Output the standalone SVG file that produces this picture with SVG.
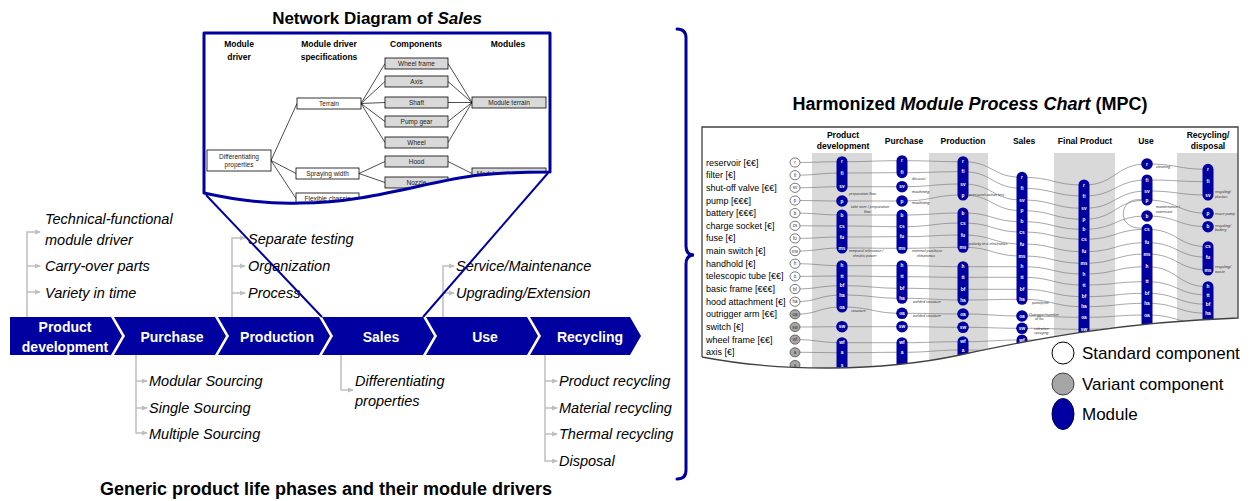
<svg xmlns="http://www.w3.org/2000/svg" width="1253" height="501" viewBox="0 0 1253 501">
<defs>
<style>
text{font-family:"Liberation Sans",Arial,sans-serif}
.title{font-weight:bold;font-size:16px;fill:#000;text-anchor:middle}
.drv{font-style:italic;font-size:14.5px;fill:#000}
.chev{fill:#0000A0}
.chevt{font-weight:bold;font-size:14px;fill:#fff;text-anchor:middle}
.tree{fill:none;stroke:#bfbfbf;stroke-width:1.5}
.zoomln{stroke:#0000A0;stroke-width:2;fill:none}
.ndh{font-weight:bold;font-size:8.5px;text-anchor:middle;fill:#000}
.ndt{font-size:6.5px;text-anchor:middle;fill:#222}
.nbox{fill:#d9d9d9;stroke:#000;stroke-width:0.8}
.nboxw{fill:#fff;stroke:#000;stroke-width:0.8}
.nedge{stroke:#000;stroke-width:0.7;fill:none}
.band{fill:#d9d9d9}
.mc{fill:none;stroke:#7f7f7f;stroke-width:0.7}
.mod{fill:#0000A0}
.ml{font-size:4.8px;font-weight:bold;fill:#fff;text-anchor:middle}
.lab{font-size:9px;fill:#000}
.std{fill:#fff;stroke:#404040;stroke-width:0.7}
.var{fill:#a6a6a6;stroke:#404040;stroke-width:0.7}
.cl{font-size:4.5px;fill:#333;text-anchor:middle}
.ann{font-size:3.8px;font-style:italic;fill:#333}
.mh{font-size:8.5px;font-weight:bold;text-anchor:middle;fill:#000}
.leg{font-size:17px;fill:#000}
</style>
<marker id="ah" viewBox="0 0 6 6" refX="5" refY="3" markerWidth="6" markerHeight="6" markerUnits="userSpaceOnUse" orient="auto"><path d="M0,0.5 L6,3 L0,5.5 Z" fill="#bfbfbf"/></marker>
<clipPath id="ndclip"><path d="M204,33 H550 V172 C535,172 510,172 480,175 C430,180 370,203 300,203 C270,204 240,201 204,193 Z"/></clipPath>
<clipPath id="mpcclip"><path d="M702,127 H1238 V318 C1120,322 1030,340 960,355 C880,372 780,372 702,357 Z"/></clipPath>
</defs>
<rect width="1253" height="501" fill="#fff"/>

<!-- Network diagram -->
<g id="network-diagram">
<text class="title" x="377" y="24" style="font-size:17px">Network Diagram of <tspan font-style="italic">Sales</tspan></text>
<path d="M204,33 H550 V172 C535,172 510,172 480,175 C430,180 370,203 300,203 C270,204 240,201 204,193 Z" fill="#fff"/>
<g clip-path="url(#ndclip)">
<text class="ndh" x="239" y="47">Module</text>
<text class="ndh" x="239" y="60">driver</text>
<text class="ndh" x="329" y="47">Module driver</text>
<text class="ndh" x="329" y="60">specifications</text>
<text class="ndh" x="416" y="47">Components</text>
<text class="ndh" x="508" y="47">Modules</text>
<g id="nd-edges">
<path class="nedge" d="M271,160.5 L297,103.5 M271,160.5 L296,173.5 M271,160.5 L296,198.5"/>
<path class="nedge" d="M361,103.5 L385,63.5 M361,103.5 L385,81.5 M361,103.5 L385,102.5 M361,103.5 L385,121.5 M361,103.5 L385,142.5"/>
<path class="nedge" d="M448,63.5 L472,102.5 M448,81.5 L472,102.5 M448,102.5 L472,102.5 M448,121.5 L472,102.5 M448,142.5 L472,102.5"/>
<path class="nedge" d="M359,173.5 L385,161.5 M359,173.5 L385,182.5 M448,161.5 L472,173.5"/>
</g>
<g id="nd-diff"><rect class="nboxw" x="207" y="150" width="64" height="21"/><text class="ndt" x="239" y="158.5">Differentiating</text><text class="ndt" x="239" y="167">properties</text></g>
<g id="nd-terrain"><rect class="nboxw" x="297" y="98" width="64" height="11"/><text class="ndt" x="329" y="105.5">Terrain</text></g>
<g id="nd-spraying"><rect class="nboxw" x="296" y="168" width="63" height="11"/><text class="ndt" x="327.5" y="175.5">Spraying  width</text></g>
<g id="nd-flexible"><rect class="nboxw" x="296" y="193" width="63" height="11"/><text class="ndt" x="327.5" y="200.5">Flexible chassis</text></g>
<g id="nd-wheelframe"><rect class="nbox" x="385" y="58" width="63" height="11"/><text class="ndt" x="416.5" y="65.5">Wheel frame</text></g>
<g id="nd-axis"><rect class="nbox" x="385" y="76" width="63" height="11"/><text class="ndt" x="416.5" y="83.5">Axis</text></g>
<g id="nd-shaft"><rect class="nbox" x="385" y="97" width="63" height="11"/><text class="ndt" x="416.5" y="104.5">Shaft</text></g>
<g id="nd-pumpgear"><rect class="nbox" x="385" y="116" width="63" height="11"/><text class="ndt" x="416.5" y="123.5">Pump gear</text></g>
<g id="nd-wheel"><rect class="nbox" x="385" y="137" width="63" height="11"/><text class="ndt" x="416.5" y="144.5">Wheel</text></g>
<g id="nd-hood"><rect class="nbox" x="385" y="156" width="63" height="11"/><text class="ndt" x="416.5" y="163.5">Hood</text></g>
<g id="nd-nozzle"><rect class="nbox" x="385" y="177" width="63" height="11"/><text class="ndt" x="416.5" y="184.5">Nozzle</text></g>
<g id="nd-modterrain"><rect class="nbox" x="472" y="97" width="74" height="11"/><text class="ndt" x="509" y="104.5">Module terrain</text></g>
<g id="nd-modspray"><rect class="nbox" x="472" y="168" width="74" height="11"/><text class="ndt" x="509" y="175.5">Module spraying width</text></g>
</g>
<path d="M204,33 H550 V172 C535,172 510,172 480,175 C430,180 370,203 300,203 C270,204 240,201 204,193 Z" fill="none" stroke="#0000A0" stroke-width="3" stroke-linejoin="round"/>
</g>

<!-- Life phases chevrons -->
<g id="phase-product-development"><path class="chev" d="M10,317 H111 L122,336 L111,355 H10 Z"/><text class="chevt" x="65" y="331.5">Product</text><text class="chevt" x="65" y="351.5">development</text></g>
<g id="phase-purchase"><path class="chev" d="M114,317 H215 L226,336 L215,355 H114 L125,336 Z"/><text class="chevt" x="172" y="341.5">Purchase</text></g>
<g id="phase-production"><path class="chev" d="M218,317 H319 L330,336 L319,355 H218 L229,336 Z"/><text class="chevt" x="277" y="341.5">Production</text></g>
<g id="phase-sales"><path class="chev" d="M322,317 H423 L434,336 L423,355 H322 L333,336 Z"/><text class="chevt" x="381" y="341.5">Sales</text></g>
<g id="phase-use"><path class="chev" d="M426,317 H527 L538,336 L527,355 H426 L437,336 Z"/><text class="chevt" x="485" y="341.5">Use</text></g>
<g id="phase-recycling"><path class="chev" d="M530,317 H630 L641,336 L630,355 H530 L541,336 Z"/><text class="chevt" x="590" y="341.5">Recycling</text></g>

<!-- Module drivers -->
<g id="drivers-product-development">
<text class="drv" x="45" y="224">Technical-functional</text>
<text class="drv" x="45" y="245">module driver</text>
<text class="drv" x="45" y="271">Carry-over parts</text>
<text class="drv" x="45" y="298">Variety in time</text>
</g>
<g id="drivers-production">
<text class="drv" x="248" y="244">Separate testing</text>
<text class="drv" x="248" y="271">Organization</text>
<text class="drv" x="248" y="298">Process</text>
</g>
<g id="drivers-use">
<text class="drv" x="456" y="271">Service/Maintenance</text>
<text class="drv" x="456" y="298">Upgrading/Extension</text>
</g>
<g id="drivers-purchase">
<text class="drv" x="149" y="386">Modular Sourcing</text>
<text class="drv" x="149" y="413">Single Sourcing</text>
<text class="drv" x="149" y="439">Multiple Sourcing</text>
</g>
<g id="drivers-sales">
<text class="drv" x="355" y="386">Differentiating</text>
<text class="drv" x="355" y="406">properties</text>
</g>
<g id="drivers-recycling">
<text class="drv" x="559" y="386">Product recycling</text>
<text class="drv" x="559" y="413">Material recycling</text>
<text class="drv" x="559" y="439">Thermal recycling</text>
<text class="drv" x="559" y="466">Disposal</text>
</g>
<text class="title" x="326" y="495" style="font-size:18px">Generic product life phases and their module drivers</text>

<!-- Connectors -->
<g id="connectors">
<path class="tree" d="M27,317 V232 H40" marker-end="url(#ah)"/>
<path class="tree" d="M27,266 H40" marker-end="url(#ah)"/>
<path class="tree" d="M27,292 H40" marker-end="url(#ah)"/>
<path class="tree" d="M232,317 V238 H245" marker-end="url(#ah)"/>
<path class="tree" d="M232,266 H245" marker-end="url(#ah)"/>
<path class="tree" d="M232,293 H245" marker-end="url(#ah)"/>
<path class="tree" d="M443,317 V266 H454" marker-end="url(#ah)"/>
<path class="tree" d="M443,293 H454" marker-end="url(#ah)"/>
<path class="tree" d="M136,355 V433 H147" marker-end="url(#ah)"/>
<path class="tree" d="M136,381 H147" marker-end="url(#ah)"/>
<path class="tree" d="M136,408 H147" marker-end="url(#ah)"/>
<path class="tree" d="M341,355 V390 H353" marker-end="url(#ah)"/>
<path class="tree" d="M545,355 V461 H557" marker-end="url(#ah)"/>
<path class="tree" d="M545,381 H557" marker-end="url(#ah)"/>
<path class="tree" d="M545,408 H557" marker-end="url(#ah)"/>
<path class="tree" d="M545,434 H557" marker-end="url(#ah)"/>
<path class="zoomln" d="M206,195 L322,317"/>
<path class="zoomln" d="M548,173 L423,317"/>
<path d="M677,29 Q686,29 686,38 V246 Q686,255 694,255 Q686,255 686,264 V470 Q686,479 677,479" fill="none" stroke="#0000A0" stroke-width="3" stroke-linecap="round"/>
</g>

<!-- MPC -->
<g id="mpc">
<text class="title" x="970" y="110" style="font-size:18px">Harmonized <tspan font-style="italic">Module Process Chart</tspan> (MPC)</text>
<g clip-path="url(#mpcclip)">
<rect x="700" y="125" width="540" height="250" fill="#fff"/>
<rect class="band" x="812" y="153" width="60" height="230"/>
<rect class="band" x="929" y="153" width="59" height="230"/>
<rect class="band" x="1054" y="153" width="61" height="230"/>
<rect class="band" x="1177" y="153" width="61" height="230"/>
<text class="mh" x="843" y="138">Product</text>
<text class="mh" x="843" y="149">development</text>
<text class="mh" x="904" y="143.5">Purchase</text>
<text class="mh" x="963" y="143.5">Production</text>
<text class="mh" x="1024" y="143.5">Sales</text>
<text class="mh" x="1085" y="143.5">Final Product</text>
<text class="mh" x="1146" y="143.5">Use</text>
<text class="mh" x="1208" y="138">Recycling/</text>
<text class="mh" x="1208" y="149">disposal</text>

<g id="mpc-connectors">
<path class="mc" d="M795,162.5 C818.5,162.5 818.5,161.7 842,161.7 C872,161.7 872,160.7 902,160.7 C932.5,160.7 932.5,161.7 963,161.7 C992.5,161.7 992.5,177.3 1022,177.3 C1053,177.3 1053,185 1084,185 C1115.5,185 1115.5,164 1147,164 C1177.5,164 1177.5,169.3 1208,169.3"/>
<path class="mc" d="M795,175.2 C818.5,175.2 818.5,173 842,173 C872,173 872,172.7 902,172.7 C932.5,172.7 932.5,171.7 963,171.7 C992.5,171.7 992.5,188.3 1022,188.3 C1053,188.3 1053,196 1084,196 C1115.5,196 1115.5,180 1147,180 C1177.5,180 1177.5,181.7 1208,181.7"/>
<path class="mc" d="M795,187.8 C818.5,187.8 818.5,186.7 842,186.7 C872,186.7 872,186.7 902,186.7 C932.5,186.7 932.5,184 963,184 C992.5,184 992.5,200 1022,200 C1053,200 1053,208.3 1084,208.3 C1115.5,208.3 1115.5,191 1147,191 C1177.5,191 1177.5,195 1208,195"/>
<path class="mc" d="M795,200.5 C818.5,200.5 818.5,201 842,201 C872,201 872,201 902,201 C932.5,201 932.5,195 963,195 C992.5,195 992.5,210.7 1022,210.7 C1053,210.7 1053,219.3 1084,219.3 C1115.5,219.3 1115.5,200 1147,200 C1177.5,200 1177.5,213.3 1208,213.3"/>
<path class="mc" d="M795,213.1 C818.5,213.1 818.5,215 842,215 C872,215 872,215 902,215 C932.5,215 932.5,213 963,213 C992.5,213 992.5,221.7 1022,221.7 C1053,221.7 1053,229.3 1084,229.3 C1115.5,229.3 1115.5,216 1147,216 C1177.5,216 1177.5,226.7 1208,226.7"/>
<path class="mc" d="M795,225.8 C818.5,225.8 818.5,226 842,226 C872,226 872,226.7 902,226.7 C932.5,226.7 932.5,223 963,223 C992.5,223 992.5,232 1022,232 C1053,232 1053,239.3 1084,239.3 C1115.5,239.3 1115.5,229.3 1147,229.3 C1177.5,229.3 1177.5,246.7 1208,246.7"/>
<path class="mc" d="M795,238.4 C818.5,238.4 818.5,237 842,237 C872,237 872,236.7 902,236.7 C932.5,236.7 932.5,235 963,235 C992.5,235 992.5,244 1022,244 C1053,244 1053,251.7 1084,251.7 C1115.5,251.7 1115.5,242.7 1147,242.7 C1177.5,242.7 1177.5,257.3 1208,257.3"/>
<path class="mc" d="M795,251.1 C818.5,251.1 818.5,248 842,248 C872,248 872,248.3 902,248.3 C932.5,248.3 932.5,247.3 963,247.3 C992.5,247.3 992.5,256 1022,256 C1053,256 1053,263.3 1084,263.3 C1115.5,263.3 1115.5,254 1147,254 C1177.5,254 1177.5,270 1208,270"/>
<path class="mc" d="M795,263.7 C818.5,263.7 818.5,265.7 842,265.7 C872,265.7 872,265.7 902,265.7 C932.5,265.7 932.5,266.7 963,266.7 C992.5,266.7 992.5,266.7 1022,266.7 C1053,266.7 1053,274 1084,274 C1115.5,274 1115.5,266.7 1147,266.7 C1177.5,266.7 1177.5,286.7 1208,286.7"/>
<path class="mc" d="M795,276.4 C818.5,276.4 818.5,276 842,276 C872,276 872,276.7 902,276.7 C932.5,276.7 932.5,277.3 963,277.3 C992.5,277.3 992.5,277.3 1022,277.3 C1053,277.3 1053,285 1084,285 C1115.5,285 1115.5,281.7 1147,281.7 C1177.5,281.7 1177.5,295 1208,295"/>
<path class="mc" d="M795,289 C818.5,289 818.5,285.7 842,285.7 C872,285.7 872,288.3 902,288.3 C932.5,288.3 932.5,289.3 963,289.3 C992.5,289.3 992.5,289.3 1022,289.3 C1053,289.3 1053,296.7 1084,296.7 C1115.5,296.7 1115.5,293.3 1147,293.3 C1177.5,293.3 1177.5,304.3 1208,304.3"/>
<path class="mc" d="M795,301.7 C818.5,301.7 818.5,295 842,295 C872,295 872,298.3 902,298.3 C932.5,298.3 932.5,300 963,300 C992.5,300 992.5,299.3 1022,299.3 C1053,299.3 1053,306.7 1084,306.7 C1115.5,306.7 1115.5,303.3 1147,303.3 C1177.5,303.3 1177.5,313.3 1208,313.3"/>
<path class="mc" d="M795,314.3 C818.5,314.3 818.5,307 842,307 C872,307 872,313.3 902,313.3 C932.5,313.3 932.5,314 963,314 C992.5,314 992.5,316 1022,316 C1053,316 1053,317.3 1084,317.3 C1115.5,317.3 1115.5,315 1147,315 C1177.5,315 1177.5,324 1208,324"/>
<path class="mc" d="M795,327 C818.5,327 818.5,326.7 842,326.7 C872,326.7 872,326.7 902,326.7 C932.5,326.7 932.5,327.3 963,327.3 C992.5,327.3 992.5,328.3 1022,328.3 C1053,328.3 1053,329.3 1084,329.3 C1115.5,329.3 1115.5,327 1147,327 C1177.5,327 1177.5,335 1208,335"/>
<path class="mc" d="M795,339.6 C818.5,339.6 818.5,342.7 842,342.7 C872,342.7 872,342.7 902,342.7 C932.5,342.7 932.5,341.7 963,341.7 C992.5,341.7 992.5,340 1022,340 C1053,340 1053,341 1084,341 C1115.5,341 1115.5,339 1147,339 C1177.5,339 1177.5,346 1208,346"/>
<path class="mc" d="M795,352.3 C818.5,352.3 818.5,352.7 842,352.7 C872,352.7 872,352.3 902,352.3 C932.5,352.3 932.5,350 963,350 C992.5,350 992.5,352 1022,352 C1053,352 1053,353 1084,353 C1115.5,353 1115.5,351 1147,351 C1177.5,351 1177.5,357 1208,357"/>
<path class="mc" d="M1142,200 C1118,196 1116,230 1142,228"/>
</g>

<g id="mpc-components">
<text class="lab" x="706" y="165.5">reservoir [€€]</text>
<text class="lab" x="706" y="178.2">filter [€]</text>
<text class="lab" x="706" y="190.8">shut-off valve [€€]</text>
<text class="lab" x="706" y="203.5">pump [€€€]</text>
<text class="lab" x="706" y="216.1">battery [€€€]</text>
<text class="lab" x="706" y="228.8">charge socket [€]</text>
<text class="lab" x="706" y="241.4">fuse [€]</text>
<text class="lab" x="706" y="254.1">main switch [€]</text>
<text class="lab" x="706" y="266.7">handhold [€]</text>
<text class="lab" x="706" y="279.4">telescopic tube [€€]</text>
<text class="lab" x="706" y="292">basic frame [€€€]</text>
<text class="lab" x="706" y="304.7">hood attachment [€]</text>
<text class="lab" x="706" y="317.3">outrigger arm [€€]</text>
<text class="lab" x="706" y="330">switch [€]</text>
<text class="lab" x="706" y="342.6">wheel frame [€€]</text>
<text class="lab" x="706" y="355.3">axis [€]</text>
<ellipse class="std" cx="795" cy="162.5" rx="5" ry="4.6"/><text class="cl" x="795" y="164">r</text>
<ellipse class="std" cx="795" cy="175.2" rx="5" ry="4.6"/><text class="cl" x="795" y="176.7">fi</text>
<ellipse class="std" cx="795" cy="187.8" rx="5" ry="4.6"/><text class="cl" x="795" y="189.3">sv</text>
<ellipse class="std" cx="795" cy="200.5" rx="5" ry="4.6"/><text class="cl" x="795" y="202">p</text>
<ellipse class="std" cx="795" cy="213.1" rx="5" ry="4.6"/><text class="cl" x="795" y="214.6">b</text>
<ellipse class="std" cx="795" cy="225.8" rx="5" ry="4.6"/><text class="cl" x="795" y="227.3">cs</text>
<ellipse class="std" cx="795" cy="238.4" rx="5" ry="4.6"/><text class="cl" x="795" y="239.9">fu</text>
<ellipse class="std" cx="795" cy="251.1" rx="5" ry="4.6"/><text class="cl" x="795" y="252.6">ms</text>
<ellipse class="std" cx="795" cy="263.7" rx="5" ry="4.6"/><text class="cl" x="795" y="265.2">h</text>
<ellipse class="std" cx="795" cy="276.4" rx="5" ry="4.6"/><text class="cl" x="795" y="277.9">tt</text>
<ellipse class="std" cx="795" cy="289" rx="5" ry="4.6"/><text class="cl" x="795" y="290.5">bf</text>
<ellipse class="std" cx="795" cy="301.7" rx="5" ry="4.6"/><text class="cl" x="795" y="303.2">ha</text>
<ellipse class="var" cx="795" cy="314.3" rx="5" ry="4.6"/><text class="cl" x="795" y="315.8">oa</text>
<ellipse class="var" cx="795" cy="327" rx="5" ry="4.6"/><text class="cl" x="795" y="328.5">sw</text>
<ellipse class="var" cx="795" cy="339.6" rx="5" ry="4.6"/><text class="cl" x="795" y="341.1">wf</text>
<ellipse class="var" cx="795" cy="352.3" rx="5" ry="4.6"/><text class="cl" x="795" y="353.8">a</text>
<ellipse class="var" cx="795" cy="365" rx="5" ry="4.6"/><text class="cl" x="795" y="366.5">s</text>
</g>

<g id="mpc-product-development">
<rect class="mod" x="836.5" y="156.2" width="11" height="36" rx="5.5"/>
<circle class="mod" cx="842" cy="201" r="5.8"/>
<rect class="mod" x="836.5" y="209.5" width="11" height="44" rx="5.5"/>
<rect class="mod" x="836.5" y="260.2" width="11" height="52.3" rx="5.5"/>
<circle class="mod" cx="842" cy="326.7" r="5.8"/>
<rect class="mod" x="836.5" y="337.2" width="11" height="40" rx="5.5"/>
<text class="ml" x="842" y="163.3">r</text><text class="ml" x="842" y="174.6">fi</text><text class="ml" x="842" y="188.3">sv</text><text class="ml" x="842" y="202.6">p</text>
<text class="ml" x="842" y="216.6">b</text><text class="ml" x="842" y="227.6">cs</text><text class="ml" x="842" y="238.6">fu</text><text class="ml" x="842" y="249.6">ms</text>
<text class="ml" x="842" y="267.3">h</text><text class="ml" x="842" y="277.6">tt</text><text class="ml" x="842" y="287.3">bf</text><text class="ml" x="842" y="296.6">ha</text><text class="ml" x="842" y="308.6">oa</text>
<text class="ml" x="842" y="328.3">sw</text><text class="ml" x="842" y="344.3">wf</text><text class="ml" x="842" y="354.3">a</text><text class="ml" x="842" y="366.6">s</text>
<text class="ann" x="849" y="195">preparation flow</text>
<text class="ann" x="851" y="208">take over / preparation</text>
<text class="ann" x="864" y="213">flow</text>
<text class="ann" x="849" y="252">temporal relevance /</text>
<text class="ann" x="853" y="257">electric power</text>
<text class="ann" x="851" y="312">structure</text>
</g>

<g id="mpc-purchase">
<rect class="mod" x="896.5" y="155.2" width="11" height="23" rx="5.5"/>
<circle class="mod" cx="902" cy="186.7" r="5.8"/>
<circle class="mod" cx="902" cy="201" r="5.8"/>
<rect class="mod" x="896.5" y="209.5" width="11" height="44.3" rx="5.5"/>
<rect class="mod" x="896.5" y="260.2" width="11" height="43.6" rx="5.5"/>
<circle class="mod" cx="902" cy="313.3" r="5.8"/>
<circle class="mod" cx="902" cy="326.7" r="5.8"/>
<rect class="mod" x="896.5" y="337.2" width="11" height="40" rx="5.5"/>
<text class="ml" x="902" y="162.3">r</text><text class="ml" x="902" y="174.3">fi</text><text class="ml" x="902" y="188.3">sv</text><text class="ml" x="902" y="202.6">p</text>
<text class="ml" x="902" y="216.6">b</text><text class="ml" x="902" y="228.3">cs</text><text class="ml" x="902" y="238.3">fu</text><text class="ml" x="902" y="249.9">ms</text>
<text class="ml" x="902" y="267.3">h</text><text class="ml" x="902" y="278.3">tt</text><text class="ml" x="902" y="289.9">bf</text><text class="ml" x="902" y="299.9">ha</text>
<text class="ml" x="902" y="314.9">oa</text><text class="ml" x="902" y="328.3">sw</text><text class="ml" x="902" y="344.3">wf</text><text class="ml" x="902" y="353.9">a</text>
<text class="ann" x="912" y="180">die-cast</text>
<text class="ann" x="912" y="192.5">machining</text>
<text class="ann" x="912" y="204">machining</text>
<text class="ann" x="912" y="252">external purchase</text>
<text class="ann" x="917" y="257">electronics</text>
<text class="ann" x="913" y="302.5">welded structure</text>
<text class="ann" x="913" y="316.5">welded structure</text>
</g>

<g id="mpc-production">
<rect class="mod" x="957.5" y="156.2" width="11" height="44.3" rx="5.5"/>
<rect class="mod" x="957.5" y="207.5" width="11" height="45.3" rx="5.5"/>
<rect class="mod" x="957.5" y="261.2" width="11" height="44.3" rx="5.5"/>
<circle class="mod" cx="963" cy="314" r="5.8"/>
<circle class="mod" cx="963" cy="327.3" r="5.8"/>
<rect class="mod" x="957.5" y="336.2" width="11" height="40" rx="5.5"/>
<text class="ml" x="963" y="163.3">r</text><text class="ml" x="963" y="173.3">fi</text><text class="ml" x="963" y="185.6">sv</text><text class="ml" x="963" y="196.6">p</text>
<text class="ml" x="963" y="214.6">b</text><text class="ml" x="963" y="224.6">cs</text><text class="ml" x="963" y="236.6">fu</text><text class="ml" x="963" y="248.9">ms</text>
<text class="ml" x="963" y="268.3">h</text><text class="ml" x="963" y="278.9">tt</text><text class="ml" x="963" y="290.9">bf</text><text class="ml" x="963" y="301.6">ha</text>
<text class="ml" x="963" y="315.6">oa</text><text class="ml" x="963" y="328.9">sw</text><text class="ml" x="963" y="343.3">wf</text><text class="ml" x="963" y="351.6">a</text>
<text class="ann" x="969" y="196">pressure/suction test</text>
<text class="ann" x="969" y="245">polarity test electronics</text>
</g>

<g id="mpc-sales">
<rect class="mod" x="1016.5" y="171.8" width="11" height="133" rx="5.5"/>
<circle class="mod" cx="1022" cy="316" r="5.8"/>
<circle class="mod" cx="1022" cy="328.3" r="5.8"/>
<rect class="mod" x="1016.5" y="334.5" width="11" height="40" rx="5.5"/>
<text class="ml" x="1022" y="178.9">r</text><text class="ml" x="1022" y="189.9">fi</text><text class="ml" x="1022" y="201.6">sv</text><text class="ml" x="1022" y="212.3">p</text>
<text class="ml" x="1022" y="223.3">b</text><text class="ml" x="1022" y="233.6">cs</text><text class="ml" x="1022" y="245.6">fu</text><text class="ml" x="1022" y="257.6">ms</text>
<text class="ml" x="1022" y="268.3">h</text><text class="ml" x="1022" y="278.9">tt</text><text class="ml" x="1022" y="290.9">bf</text><text class="ml" x="1022" y="300.9">ha</text>
<text class="ml" x="1022" y="317.6">oa</text><text class="ml" x="1022" y="329.9">sw</text><text class="ml" x="1022" y="341.6">wf</text>
<text class="ann" x="1032" y="303.5">paint/print</text>
<text class="ann" x="1029" y="315.5">Outrigger/number</text>
<text class="ann" x="1035" y="320">of ha</text>
<text class="ann" x="1034" y="329.5">selective</text>
<text class="ann" x="1034" y="334">spraying</text>
</g>

<g id="mpc-final-product">
<rect class="mod" x="1078.5" y="179.5" width="11" height="180" rx="5.5"/>
<text class="ml" x="1084" y="186.6">r</text><text class="ml" x="1084" y="197.6">fi</text><text class="ml" x="1084" y="209.9">sv</text><text class="ml" x="1084" y="220.9">p</text>
<text class="ml" x="1084" y="230.9">b</text><text class="ml" x="1084" y="240.9">cs</text><text class="ml" x="1084" y="253.3">fu</text><text class="ml" x="1084" y="264.9">ms</text>
<text class="ml" x="1084" y="275.6">h</text><text class="ml" x="1084" y="286.6">tt</text><text class="ml" x="1084" y="298.3">bf</text><text class="ml" x="1084" y="308.3">ha</text>
<text class="ml" x="1084" y="318.9">oa</text><text class="ml" x="1084" y="330.9">sw</text>
</g>

<g id="mpc-use">
<circle class="mod" cx="1147" cy="164" r="5.8"/>
<rect class="mod" x="1141.5" y="174.5" width="11" height="31" rx="5.5"/>
<circle class="mod" cx="1147" cy="216" r="5.8"/>
<rect class="mod" x="1141.5" y="223.8" width="11" height="140" rx="5.5"/>
<text class="ml" x="1147" y="165.6">r</text><text class="ml" x="1147" y="181.6">fi</text><text class="ml" x="1147" y="192.6">sv</text><text class="ml" x="1147" y="201.6">p</text>
<text class="ml" x="1147" y="217.6">b</text><text class="ml" x="1147" y="230.9">cs</text><text class="ml" x="1147" y="244.3">fu</text><text class="ml" x="1147" y="255.6">ms</text>
<text class="ml" x="1147" y="268.3">h</text><text class="ml" x="1147" y="283.3">tt</text><text class="ml" x="1147" y="294.9">bf</text><text class="ml" x="1147" y="304.9">ha</text><text class="ml" x="1147" y="316.6">oa</text>
<text class="ann" x="1156" y="168">cleaning</text>
<text class="ann" x="1156" y="208">maintenance /</text>
<text class="ann" x="1156" y="212.5">extension</text>
</g>

<g id="mpc-recycling">
<rect class="mod" x="1202.5" y="163.8" width="11" height="36.7" rx="5.5"/>
<circle class="mod" cx="1208" cy="213.3" r="5.8"/>
<circle class="mod" cx="1208" cy="226.7" r="5.8"/>
<rect class="mod" x="1202.5" y="241.2" width="11" height="34.3" rx="5.5"/>
<rect class="mod" x="1202.5" y="281.2" width="11" height="60" rx="5.5"/>
<text class="ml" x="1208" y="170.9">r</text><text class="ml" x="1208" y="183.3">fi</text><text class="ml" x="1208" y="196.6">sv</text><text class="ml" x="1208" y="214.9">p</text>
<text class="ml" x="1208" y="228.3">b</text><text class="ml" x="1208" y="248.3">cs</text><text class="ml" x="1208" y="258.9">fu</text><text class="ml" x="1208" y="271.6">ms</text>
<text class="ml" x="1208" y="288.3">h</text><text class="ml" x="1208" y="296.6">tt</text><text class="ml" x="1208" y="305.9">bf</text><text class="ml" x="1208" y="314.9">ha</text>
<text class="ann" x="1215" y="193">recycling/</text>
<text class="ann" x="1215" y="197.5">plastics</text>
<text class="ann" x="1215" y="215">reuse pump</text>
<text class="ann" x="1215" y="226.5">recycling/</text>
<text class="ann" x="1215" y="231">battery</text>
<text class="ann" x="1215" y="268">recycling/</text>
<text class="ann" x="1215" y="272.5">waste</text>
</g>
</g>
<path d="M702,357 V127 H1238 V318 C1120,322 1030,340 960,355 C880,372 780,372 702,357" fill="none" stroke="#404040" stroke-width="1.3"/>
</g>

<!-- Legend -->
<g id="legend-standard"><circle cx="1063" cy="353" r="11" fill="#fff" stroke="#000" stroke-width="1"/><text class="leg" x="1082" y="359">Standard component</text></g>
<g id="legend-variant"><circle cx="1063" cy="384" r="11" fill="#a6a6a6" stroke="#404040" stroke-width="1"/><text class="leg" x="1082" y="390">Variant component</text></g>
<g id="legend-module"><ellipse cx="1063" cy="414" rx="11" ry="15.5" fill="#0000A0" stroke="#000060" stroke-width="1"/><text class="leg" x="1082" y="420">Module</text></g>
</svg>
